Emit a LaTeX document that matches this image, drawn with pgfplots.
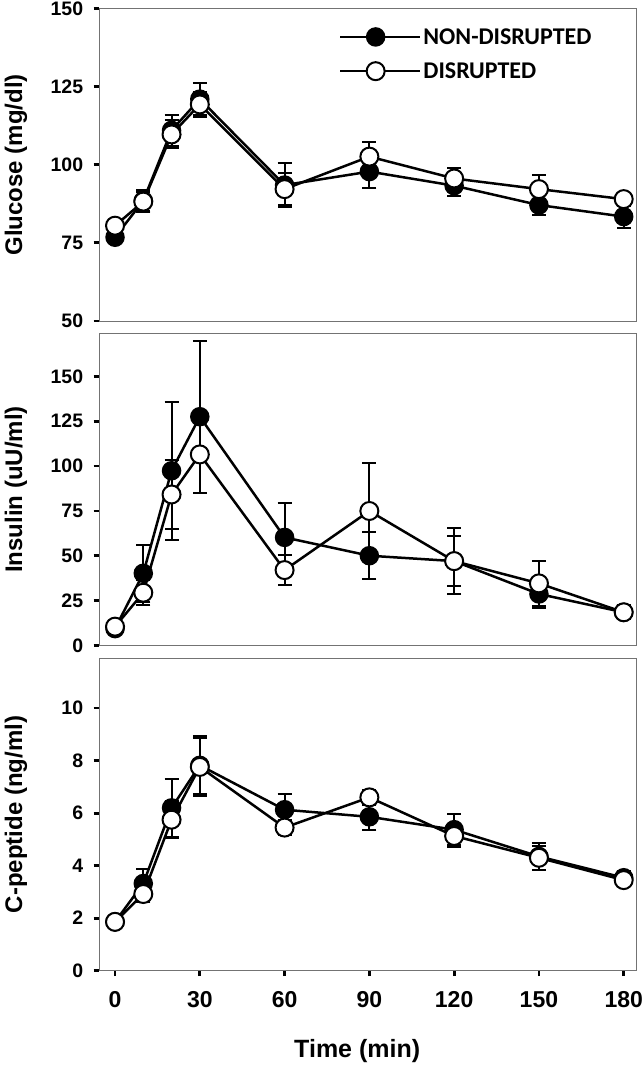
\documentclass[border=0pt]{standalone}
\usepackage{pgfplots}
\pgfplotsset{compat=1.18}
\usepackage{fontspec}
\setmainfont{Liberation Sans}
\newfontfamily\carlito{Carlito}

\pgfplotstableread{
t y e
0 76.8 1.5
10 88.5 3.5
20 111 5
30 121 5
60 93.5 7
90 97.8 5.4
120 93.3 3.3
150 87.1 3.2
180 83.4 3.5
}\gluND
\pgfplotstableread{
t y e
0 80.5 1.5
10 88.2 3
20 109.7 4.5
30 119.3 4
60 92.2 5
90 102.6 4.8
120 95.6 3.4
150 92.2 4.5
180 89.0 2
}\gluD
\pgfplotstableread{
t y e
0 9.5 2
10 40.3 15.7
20 97.4 38.4
30 127.5 42.3
60 60.3 19
90 50.1 13.2
120 47.1 18.5
150 28.8 7.7
180 18.6 4
}\insND
\pgfplotstableread{
t y e
0 10.6 2
10 29.5 7
20 84.2 19
30 106.5 21.3
60 42.1 8.4
90 75.0 27
120 47.1 14
150 34.7 12.6
180 18.6 4
}\insD
\pgfplotstableread{
t y e
0 1.86 0.1
10 3.32 0.57
20 6.2 1.1
30 7.82 1.1
60 6.13 0.6
90 5.86 0.5
120 5.37 0.6
150 4.35 0.5
180 3.54 0.25
}\cpND
\pgfplotstableread{
t y e
0 1.86 0.1
10 2.92 0.3
20 5.75 0.7
30 7.76 1.1
60 5.45 0.3
90 6.6 0.3
120 5.13 0.42
150 4.30 0.45
180 3.45 0.2
}\cpD

\pgfplotsset{
  panel/.style={
    scale only axis, width=537.5pt, height=312.5pt,
    xmin=-5.6, xmax=184.6,
    axis line style={draw=black!55, line width=0.8pt},
    tick style={black, line width=2.8pt},
    major tick length=5.5pt,
    tick align=outside,
    ytick pos=left, xtick pos=bottom,
    yticklabel style={font=\fontsize{19.5}{19.5}\selectfont\bfseries, xshift=-7pt},
    xticklabel style={font=\fontsize{23}{23}\selectfont\bfseries, yshift=-12pt},
    /pgf/number format/assume math mode=true,
    ylabel style={font=\fontsize{24}{24}\selectfont\bfseries, at={(axis description cs:-0.155,0.5)}, anchor=center},
    clip=false,
  },
  nd/.style={black, line width=2.5pt, mark=*, mark size=9pt,
    mark options={fill=black, draw=black, line width=1.5pt},
    error bars/.cd, y dir=both, y explicit,
    error bar style={line width=2pt, black},
    error mark options={rotate=90, mark size=7pt, line width=2pt, black}},
  dd/.style={black, line width=2.5pt, mark=*, mark size=9pt,
    mark options={fill=white, draw=black, line width=2pt},
    error bars/.cd, y dir=both, y explicit,
    error bar style={line width=2pt, black},
    error mark options={rotate=90, mark size=7pt, line width=2pt, black}},
}

\begin{document}
\begin{tikzpicture}
\useasboundingbox (0pt,0pt) rectangle (644pt,1069pt);

\begin{axis}[panel, at={(99.2pt,748pt)}, anchor=south west,
  ymin=50, ymax=150, ytick={50,75,100,125,150}, xtick=\empty,
  ylabel={Glucose (mg/dl)},
  legend style={at={(axis description cs:0.44,0.95)}, anchor=north west, draw=none, fill=none,
    font=\carlito\fontsize{24}{24}\selectfont\bfseries, row sep=13pt},
  legend cell align=left,
  legend image code/.code={\path (0pt,0pt) -- (80pt,0pt);\draw[mark repeat=2,mark phase=2,#1] plot coordinates {(0pt,0pt) (35.5pt,0pt) (71pt,0pt)};},
]
\addplot[nd] table[x=t, y=y, y error=e] {\gluND};
\addlegendentry{NON-DISRUPTED}
\addplot[dd] table[x=t, y=y, y error=e] {\gluD};
\addlegendentry{DISRUPTED}
\end{axis}

\begin{axis}[panel, at={(99.2pt,423.3pt)}, anchor=south west,
  ymin=0, ymax=174, ytick={0,25,50,75,100,125,150}, xtick=\empty,
  ylabel={Insulin (uU/ml)},
]
\addplot[nd] table[x=t, y=y, y error=e] {\insND};
\addplot[dd] table[x=t, y=y, y error=e] {\insD};
\end{axis}

\begin{axis}[panel, at={(99.2pt,98.3pt)}, anchor=south west,
  ymin=0, ymax=11.9, ytick={0,2,4,6,8,10}, xtick={0,30,60,90,120,150,180},
  ylabel={C-peptide (ng/ml)},
  xlabel={Time (min)},
  xlabel style={font=\fontsize{25}{25}\selectfont\bfseries, at={(axis description cs:0.48,-0.258)}, anchor=center},
]
\addplot[nd] table[x=t, y=y, y error=e] {\cpND};
\addplot[dd] table[x=t, y=y, y error=e] {\cpD};
\end{axis}
\end{tikzpicture}
\end{document}
